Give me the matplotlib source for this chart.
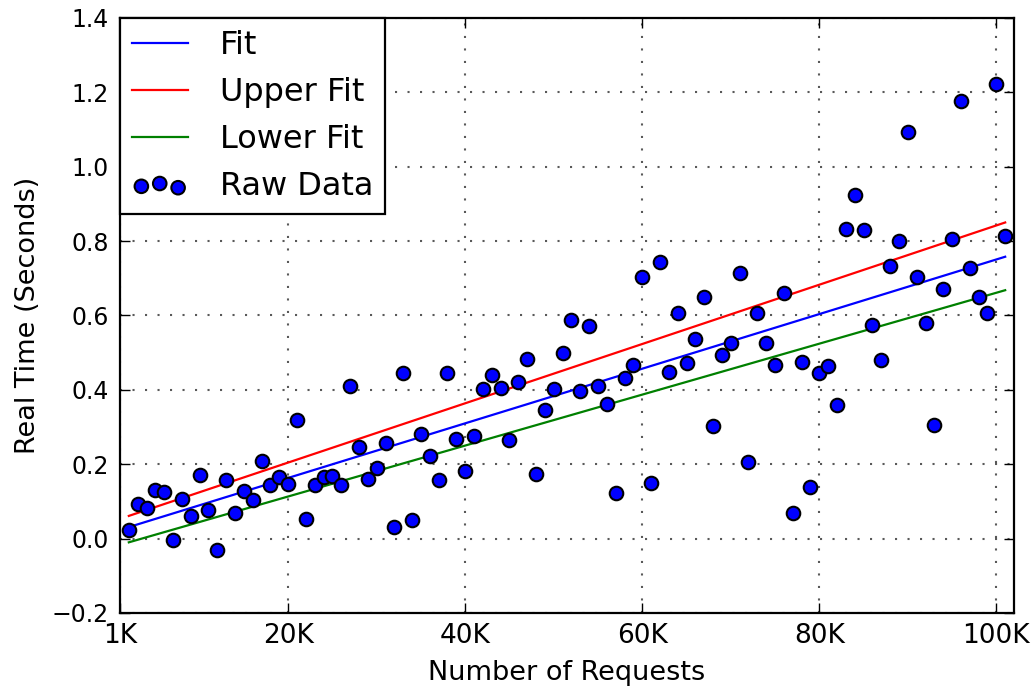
import numpy as np
import matplotlib
matplotlib.use('Agg')
from matplotlib import pyplot as plt

# number of requests per run, 2K .. 101K
requests = np.arange(2000, 102000, 1000)

# measured wall clock time for each run (seconds)
real_time = [
    0.023, 0.093, 0.083, 0.132, 0.124, -0.004, 0.106, 0.061, 0.170, 0.078,
    -0.030, 0.158, 0.068, 0.128, 0.105, 0.210, 0.145, 0.165, 0.148, 0.318,
    0.052, 0.144, 0.166, 0.168, 0.145, 0.411, 0.247, 0.160, 0.190, 0.256,
    0.030, 0.444, 0.050, 0.282, 0.221, 0.157, 0.445, 0.268, 0.181, 0.276,
    0.402, 0.439, 0.405, 0.266, 0.421, 0.483, 0.175, 0.346, 0.403, 0.498,
    0.588, 0.397, 0.573, 0.411, 0.363, 0.123, 0.433, 0.466, 0.704, 0.150,
    0.744, 0.448, 0.606, 0.471, 0.538, 0.649, 0.302, 0.495, 0.525, 0.713,
    0.205, 0.608, 0.525, 0.467, 0.661, 0.069, 0.475, 0.139, 0.444, 0.465,
    0.358, 0.832, 0.925, 0.830, 0.575, 0.480, 0.733, 0.800, 1.094, 0.704,
    0.579, 0.305, 0.670, 0.805, 1.178, 0.727, 0.649, 0.608, 1.223, 0.814,
]

# linear fits: (slope per request, intercept in seconds)
fit       = (7.343e-6, 0.0163)
upper_fit = (7.970e-6, 0.0451)
lower_fit = (6.848e-6, -0.0237)

x_ticks       = [1000, 20000, 40000, 60000, 80000, 100000]
x_tick_labels = ['1K', '20K', '40K', '60K', '80K', '100K']
y_ticks       = [-0.2, 0.0, 0.2, 0.4, 0.6, 0.8, 1.0, 1.2, 1.4]


fig = plt.figure(figsize=(10.36, 6.91), dpi=100)
ax = fig.add_axes([0.1158, 0.1129, 0.863, 0.8611])

ax.plot(requests, np.polyval(fit, requests), color='b', lw=1.6, label='Fit')
ax.plot(requests, np.polyval(upper_fit, requests), color='r', lw=1.6, label='Upper Fit')
ax.plot(requests, np.polyval(lower_fit, requests), color='g', lw=1.6, label='Lower Fit')
ax.scatter(requests, real_time, s=95, c='b', edgecolors='k', linewidths=1.5,
           zorder=3, label='Raw Data')

ax.set_xlim(1000, 102000)
ax.set_ylim(-0.2, 1.4)
ax.set_xticks(x_ticks, x_tick_labels)
ax.set_yticks(y_ticks, [f'{v:.1f}'.replace('-', '\u2212') for v in y_ticks])

ax.tick_params(direction='in', length=7, width=1, top=True, right=True)
ax.tick_params(axis='y', pad=8, labelsize=17)
ax.tick_params(axis='x', pad=7, labelsize=19)
ax.grid(True, color='k', alpha=0.65, linestyle=(0, (1, 5)), lw=1.5)
for s in ax.spines.values():
    s.set_linewidth(1.6)

ax.set_xlabel('Number of Requests', fontsize=19.5, labelpad=8)
ax.set_ylabel('Real Time (Seconds)', fontsize=19.5, labelpad=8)

leg = ax.legend(loc='upper left', borderaxespad=0, fontsize=23, fancybox=False,
                framealpha=1, edgecolor='k', scatterpoints=3,
                scatteryoffsets=[0.375, 0.5, 0.3125], handlelength=1.75,
                handletextpad=1.0, labelspacing=0.5, borderpad=0.37)
leg.get_frame().set_linewidth(1.6)

plt.savefig('out.png')
